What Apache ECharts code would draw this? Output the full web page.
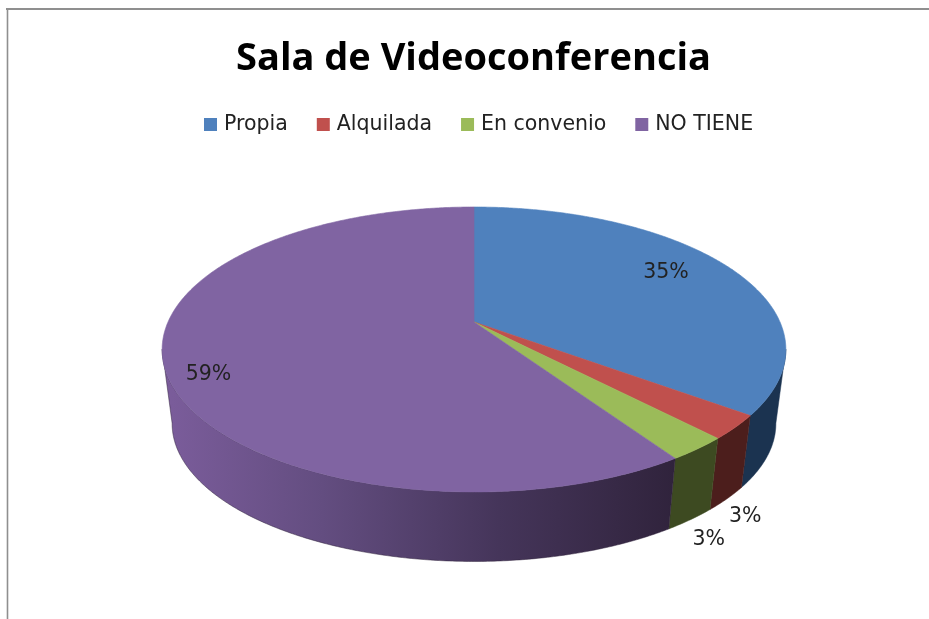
<!DOCTYPE html>
<html>
<head>
<meta charset="utf-8">
<style>html,body{margin:0;padding:0;background:#fff}#c{width:929px;height:619px}</style>
<script src="https://cdn.jsdelivr.net/npm/echarts@6/dist/echarts.min.js"></script>
</head>
<body>
<div id="c"></div>
<script>
var titleText = 'Sala de Videoconferencia';
var categories = ['Propia', 'Alquilada', 'En convenio', 'NO TIENE'];
var values = [35.3, 2.7, 2.7, 59.3];
var topColors = ['#4f81bd', '#c0504d', '#9bbb59', '#8064a2'];

// Drawing styles and projection settings
var wallStops = [
  [[0, '#1f3b5c'], [1, '#1b3350']],
  [[0, '#551f1e'], [1, '#4c1e1c']],
  [[0, '#434f25'], [1, '#3d4a21']],
  [[0, '#7a5c9a'], [0.3, '#634d80'], [0.65, '#45355a'], [1, '#30233c']]
];
var labelPlace = [
  { r: 0.75, dx: -1, dy: -6 },
  { r: 1.0, dx: 10, dy: 89 },
  { r: 1.0, dx: 11, dy: 91 },
  { r: 0.85, dx: -4, dy: 17 }
];
var CX = 474, CY = 322, KP = 0.193, AX = 306, AY = 137.2;
var WALL_SCALE = 0.968, RIM_CY = 350, WALL_CY = 424;
var WALL_FROM = 101, WALL_TO = 259; // the part of the rim whose wall faces the viewer

function project(r, deg) {
  var t = deg * Math.PI / 180, x = r * Math.sin(t), z = r * Math.cos(t), d = 1 + KP * z;
  return [CX + AX * x / d, CY - AY * z / d];
}
function lower(p) {
  return [CX + (p[0] - CX) * WALL_SCALE, WALL_CY + (p[1] - RIM_CY) * WALL_SCALE];
}
function arc(a0, a1) {
  var pts = [], n = Math.max(2, Math.ceil(a1 - a0) * 2);
  for (var k = 0; k <= n; k++) pts.push(project(1, a0 + (a1 - a0) * k / n));
  return pts;
}
var total = values.reduce(function (a, b) { return a + b; }, 0);

function renderSlice(idx) {
  return function (params, api) {
    var before = 0;
    for (var i = 0; i < idx; i++) before += values[i];
    var v = api.value(0);
    var a0 = before / total * 360, a1 = (before + v) / total * 360;
    var children = [];
    var w0 = Math.max(a0, WALL_FROM), w1 = Math.min(a1, WALL_TO);
    if (w1 > w0) {
      var wallRim = arc(w0, w1);
      var fillWall = new echarts.graphic.LinearGradient(172, 0, 675, 0,
        wallStops[idx].map(function (s) { return { offset: s[0], color: s[1] }; }), true);
      children.push({
        type: 'polygon', silent: true,
        shape: { points: wallRim.concat(wallRim.map(lower).reverse()) },
        style: { fill: fillWall, stroke: wallStops[idx][wallStops[idx].length - 1][1], lineWidth: 0.5 }
      });
    }
    children.push({
      type: 'polygon', silent: true,
      shape: { points: [[CX, CY]].concat(arc(a0, a1)) },
      style: { fill: topColors[idx], stroke: topColors[idx], lineWidth: 0.6 }
    });
    var lp = labelPlace[idx], pos = project(lp.r, (a0 + a1) / 2);
    children.push({
      type: 'text', x: pos[0] + lp.dx, y: pos[1] + lp.dy, silent: true, z2: 10,
      style: { text: Math.round(v / total * 100) + '%', fill: '#222', font: '20.5px "DejaVu Sans"', align: 'center', verticalAlign: 'middle' }
    });
    return { type: 'group', children: children };
  };
}

var chart = echarts.init(document.getElementById('c'), null, { renderer: 'canvas' });
chart.setOption({
  animation: false,
  backgroundColor: '#fff',
  title: {
    text: titleText, left: 231, top: 35,
    textStyle: { fontFamily: 'Open Sans', fontWeight: 'bold', fontSize: 38, color: '#000' }
  },
  legend: {
    left: 204, top: 114, padding: 0, icon: 'rect', itemWidth: 13, itemHeight: 13, itemGap: 29,
    textStyle: { fontFamily: 'DejaVu Sans', fontSize: 20.5, color: '#222', padding: [0, 0, 0, 2] },
    data: categories
  },
  graphic: [
    { type: 'line', shape: { x1: 6, y1: 9, x2: 929, y2: 9 }, style: { stroke: '#8f8f8f', lineWidth: 2 }, silent: true },
    { type: 'line', shape: { x1: 7.5, y1: 8, x2: 7.5, y2: 619 }, style: { stroke: '#8f8f8f', lineWidth: 1.6 }, silent: true }
  ],
  series: categories.map(function (name, i) {
    return {
      type: 'custom', name: name, coordinateSystem: 'none',
      itemStyle: { color: topColors[i] },
      data: [[values[i]]],
      renderItem: renderSlice(i)
    };
  })
});
</script>
</body>
</html>
